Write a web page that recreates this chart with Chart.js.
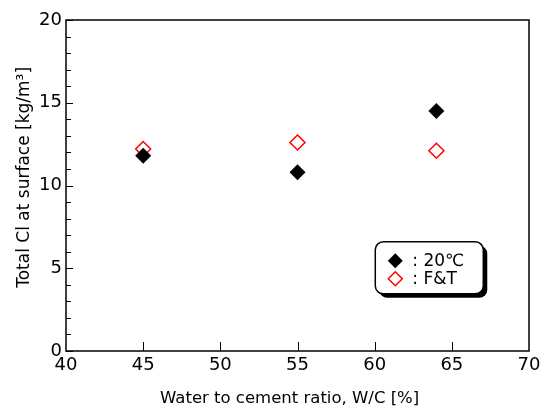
<!DOCTYPE html>
<html lang="en">
  <head>
    <meta charset="UTF-8" />
    <title>Total Cl at surface vs W/C</title>
    <script src="https://cdn.jsdelivr.net/npm/chart.js"></script>
    <style>
      body {
        margin: 0;
        background: #fff;
      }
      .chart-container {
        position: relative;
        width: 542px;
        height: 410px;
      }
    </style>
  </head>
  <body>
    <div class="chart-container">
      <canvas id="clChart"></canvas>
    </div>

    <script>
      const wcRatio = [45, 55, 64]
      const cl20C = [11.8, 10.8, 14.5]
      const clFT = [12.2, 12.6, 12.1]
      const legendLabels = [": 20\u2103", ": F&T"]

      const FONT = "'DejaVu Sans', sans-serif"

      // box around plot + inward ticks
      const frame = {
        id: "frame",
        afterDatasetsDraw(chart) {
          const { ctx, chartArea: a, scales } = chart
          ctx.save()
          ctx.strokeStyle = "#000"
          ctx.lineWidth = 1.5
          ctx.strokeRect(a.left, a.top, a.right - a.left, a.bottom - a.top)
          ctx.lineWidth = 1
          ctx.beginPath()
          for (let v = 0; v <= 20; v++) {
            const y = Math.round(scales.y.getPixelForValue(v)) + 0.5
            const len = v % 5 === 0 ? 7 : 5
            ctx.moveTo(a.left, y)
            ctx.lineTo(a.left + len, y)
          }
          for (let v = 45; v < 70; v += 5) {
            const x = Math.round(scales.x.getPixelForValue(v)) + 0.5
            ctx.moveTo(x, a.bottom)
            ctx.lineTo(x, a.bottom - 9)
          }
          ctx.stroke()
          ctx.restore()
        },
      }

      // rounded legend box with shadow
      const boxLegend = {
        id: "boxLegend",
        afterDraw(chart) {
          const { ctx, chartArea: a } = chart
          const w = a.right - a.left
          const h = a.bottom - a.top
          const bx = a.left + w * 0.668
          const by = a.top + h * 0.67
          const bw = 108
          const bh = 52
          ctx.save()
          ctx.fillStyle = "#000"
          ctx.beginPath()
          ctx.roundRect(bx + 4, by + 4, bw, bh, 8)
          ctx.fill()
          ctx.fillStyle = "#fff"
          ctx.strokeStyle = "#000"
          ctx.lineWidth = 1.5
          ctx.beginPath()
          ctx.roundRect(bx, by, bw, bh, 8)
          ctx.fill()
          ctx.stroke()
          ctx.font = "17px " + FONT
          ctx.textBaseline = "middle"
          chart.data.datasets.forEach((ds, i) => {
            const cy = by + 19 + i * 18
            ctx.fillStyle = ds.backgroundColor
            ctx.strokeStyle = ds.borderColor
            ctx.lineWidth = ds.borderWidth
            Chart.helpers.drawPoint(ctx, { pointStyle: "rectRot", radius: ds.pointRadius - 0.5, borderWidth: ds.borderWidth }, bx + 20, cy)
            ctx.fillStyle = "#000"
            ctx.fillText(legendLabels[i], bx + 37, cy + 1)
          })
          ctx.restore()
        },
      }

      const ctx = document.getElementById("clChart").getContext("2d")
      new Chart(ctx, {
        type: "scatter",
        data: {
          datasets: [
            {
              label: legendLabels[0],
              data: wcRatio.map((x, i) => ({ x: x, y: cl20C[i] })),
              pointStyle: "rectRot",
              pointRadius: 8,
              backgroundColor: "#000",
              borderColor: "#000",
              borderWidth: 0,
            },
            {
              label: legendLabels[1],
              data: wcRatio.map((x, i) => ({ x: x, y: clFT[i] })),
              pointStyle: "rectRot",
              pointRadius: 7.5,
              backgroundColor: "rgba(0,0,0,0)",
              borderColor: "#ff0000",
              borderWidth: 1.5,
            },
          ],
        },
        options: {
          responsive: true,
          maintainAspectRatio: false,
          animation: false,
          events: [],
          layout: { padding: { top: 20, right: 13, left: 0, bottom: 0 } },
          plugins: { legend: { display: false }, tooltip: { enabled: false } },
          scales: {
            x: {
              type: "linear",
              min: 40,
              max: 70,
              afterFit: (s) => {
                s.height = 59
                s.paddingLeft = 0
                s.paddingRight = 0
              },
              ticks: { stepSize: 5, color: "#000", padding: 4, font: { family: FONT, size: 18 } },
              grid: { display: false, drawTicks: false },
              border: { display: false },
              title: {
                display: true,
                text: "Water to cement ratio, W/C [%]\u00a0\u00a0\u00a0",
                color: "#000",
                font: { family: FONT, size: 16.5 },
                padding: { top: 0, bottom: 1 },
              },
            },
            y: {
              min: 0,
              max: 20,
              afterFit: (s) => {
                s.width = 66
                s.paddingTop = 0
                s.paddingBottom = 0
              },
              ticks: { stepSize: 5, color: "#000", padding: 4, font: { family: FONT, size: 18 } },
              grid: { display: false, drawTicks: false },
              border: { display: false },
              title: {
                display: true,
                text: "\u00a0\u00a0\u00a0Total Cl at surface [kg/m\u00b3]",
                color: "#000",
                font: { family: FONT, size: 17 },
                padding: { top: 14, bottom: 0 },
              },
            },
          },
        },
        plugins: [frame, boxLegend],
      })
    </script>
  </body>
</html>
